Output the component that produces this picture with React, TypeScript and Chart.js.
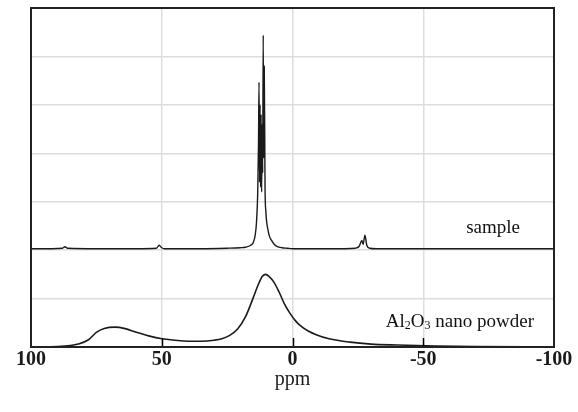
import React, { useEffect, useRef } from "react";
import { Chart, registerables } from "chart.js";

Chart.register(...registerables);

// Sample spectrum (offset baseline ~2)
const samplePpm = [100, 92, 88, 87, 86, 75, 60, 52, 51, 50, 49, 35, 25, 20, 18, 16, 15, 14.3, 13.8, 13.3, 13.0, 12.8, 12.6, 12.4, 12.2, 12.0, 11.8, 11.6, 11.4, 11.2, 11.0, 10.8, 10.5, 10.2, 9.8, 9.3, 8.9, 8, 7, 6, 4, 2, 0, -10, -20, -24, -25.5, -26.5, -27.0, -27.7, -28.4, -29.5, -32, -50, -70, -100];
const sampleVal = [2.03, 2.03, 2.04, 2.07, 2.04, 2.03, 2.03, 2.04, 2.1, 2.05, 2.03, 2.03, 2.04, 2.05, 2.06, 2.1, 2.16, 2.3, 2.55, 3.2, 4.2, 5.47, 3.4, 5.0, 3.3, 4.8, 3.2, 4.6, 3.6, 6.44, 3.9, 5.8, 3.3, 2.8, 2.55, 2.4, 2.3, 2.2, 2.12, 2.08, 2.05, 2.04, 2.03, 2.03, 2.03, 2.04, 2.08, 2.2, 2.12, 2.31, 2.1, 2.04, 2.03, 2.03, 2.03, 2.03];

// Al2O3 nano powder spectrum (baseline 0)
const powderPpm = [100, 90, 85, 82, 78, 75, 72, 68, 64, 60, 55, 50, 45, 40, 35, 30, 27, 24, 21, 18, 15, 13, 11.5, 10.3, 9, 7, 5, 3, 1, -1, -3, -6, -9.3, -14, -22, -30, -40, -55, -70, -100];
const powderVal = [0.0, 0.01, 0.03, 0.06, 0.15, 0.3, 0.38, 0.41, 0.38, 0.31, 0.23, 0.17, 0.14, 0.12, 0.12, 0.14, 0.17, 0.24, 0.37, 0.62, 1.02, 1.3, 1.46, 1.5, 1.46, 1.33, 1.12, 0.88, 0.7, 0.55, 0.44, 0.33, 0.25, 0.17, 0.1, 0.06, 0.04, 0.02, 0.01, 0.0];

const xTicks = [100, 50, 0, -50, -100];
const axisTitle = "ppm";
const sampleLabel = "sample";
const powderLabelParts = [
  { t: "Al", sub: false },
  { t: "2", sub: true },
  { t: "O", sub: false },
  { t: "3", sub: true },
  { t: " nano powder", sub: false },
];

const SERIF = "'Liberation Serif', 'Times New Roman', serif";

const framePlugin = {
  id: "frame",
  afterDraw(chart: any) {
    const { ctx, chartArea } = chart;
    const xs = chart.scales.x;
    ctx.save();
    ctx.strokeStyle = "#000";
    ctx.lineWidth = 1.5;
    [50, 0, -50].forEach((v) => {
      const px = Math.round(xs.getPixelForValue(v)) + 0.5;
      ctx.beginPath();
      ctx.moveTo(px, chartArea.bottom);
      ctx.lineTo(px, chartArea.bottom - 9);
      ctx.stroke();
    });
    ctx.lineWidth = 2;
    ctx.strokeStyle = "#222";
    ctx.strokeRect(chartArea.left, chartArea.top, chartArea.right - chartArea.left, chartArea.bottom - chartArea.top);

    const ys = chart.scales.y;
    ctx.fillStyle = "#111";
    ctx.textBaseline = "middle";
    ctx.font = `19px ${SERIF}`;
    ctx.textAlign = "center";
    ctx.fillText(sampleLabel, xs.getPixelForValue(-76.7), ys.getPixelForValue(2.45));

    let x = xs.getPixelForValue(-35.7);
    const yb = ys.getPixelForValue(0.52);
    ctx.textAlign = "left";
    powderLabelParts.forEach((p) => {
      ctx.font = p.sub ? `12px ${SERIF}` : `19px ${SERIF}`;
      ctx.fillText(p.t, x, p.sub ? yb + 4 : yb);
      x += ctx.measureText(p.t).width;
    });
    ctx.restore();
  },
};

export default function App() {
  const ref = useRef<HTMLCanvasElement | null>(null);
  useEffect(() => {
    if (!ref.current) return;
    const chart = new Chart(ref.current, {
      type: "line",
      data: {
        datasets: [
          {
            label: "sample",
            data: samplePpm.map((p, i) => ({ x: p, y: sampleVal[i] })),
            borderColor: "#1a1a1a",
            borderWidth: 1.4,
            pointRadius: 0,
            cubicInterpolationMode: "monotone",
          },
          {
            label: "Al2O3 nano powder",
            data: powderPpm.map((p, i) => ({ x: p, y: powderVal[i] })),
            borderColor: "#1a1a1a",
            borderWidth: 1.6,
            pointRadius: 0,
            cubicInterpolationMode: "monotone",
          },
        ],
      },
      options: {
        animation: false,
        responsive: false,
        devicePixelRatio: 1,
        layout: { padding: { left: 31, right: 24, top: 8, bottom: 0 } },
        plugins: { legend: { display: false }, tooltip: { enabled: false } },
        scales: {
          x: {
            type: "linear",
            reverse: true,
            min: -100,
            max: 100,
            afterFit: (s: any) => {
              s.height = 65;
            },
            afterBuildTicks: (s: any) => {
              s.ticks = xTicks.map((v) => ({ value: v }));
            },
            ticks: {
              color: "#1a1a1a",
              font: { family: SERIF, size: 20, weight: "bold" },
              padding: 1,
              maxRotation: 0,
              autoSkip: false,
            },
            grid: { color: "#dddddd", lineWidth: 1.5, drawTicks: false },
            border: { display: true, color: "#222", width: 2 },
            title: {
              display: true,
              text: axisTitle,
              color: "#1a1a1a",
              font: { family: SERIF, size: 20 },
              padding: { top: 0, bottom: 20 },
            },
          },
          y: {
            min: 0,
            max: 7,
            afterFit: (s: any) => {
              s.width = 0;
            },
            ticks: { display: false, stepSize: 1 },
            grid: { color: "#dddddd", lineWidth: 1.5, drawTicks: false },
            border: { display: true, color: "#222", width: 2 },
          },
        },
      },
      plugins: [framePlugin],
    } as any);
    return () => chart.destroy();
  }, []);
  return (
    <div style={{ position: "absolute", left: 0, top: 0, width: 578, height: 412, background: "#fff" }}>
      <canvas ref={ref} width={578} height={412} />
    </div>
  );
}
